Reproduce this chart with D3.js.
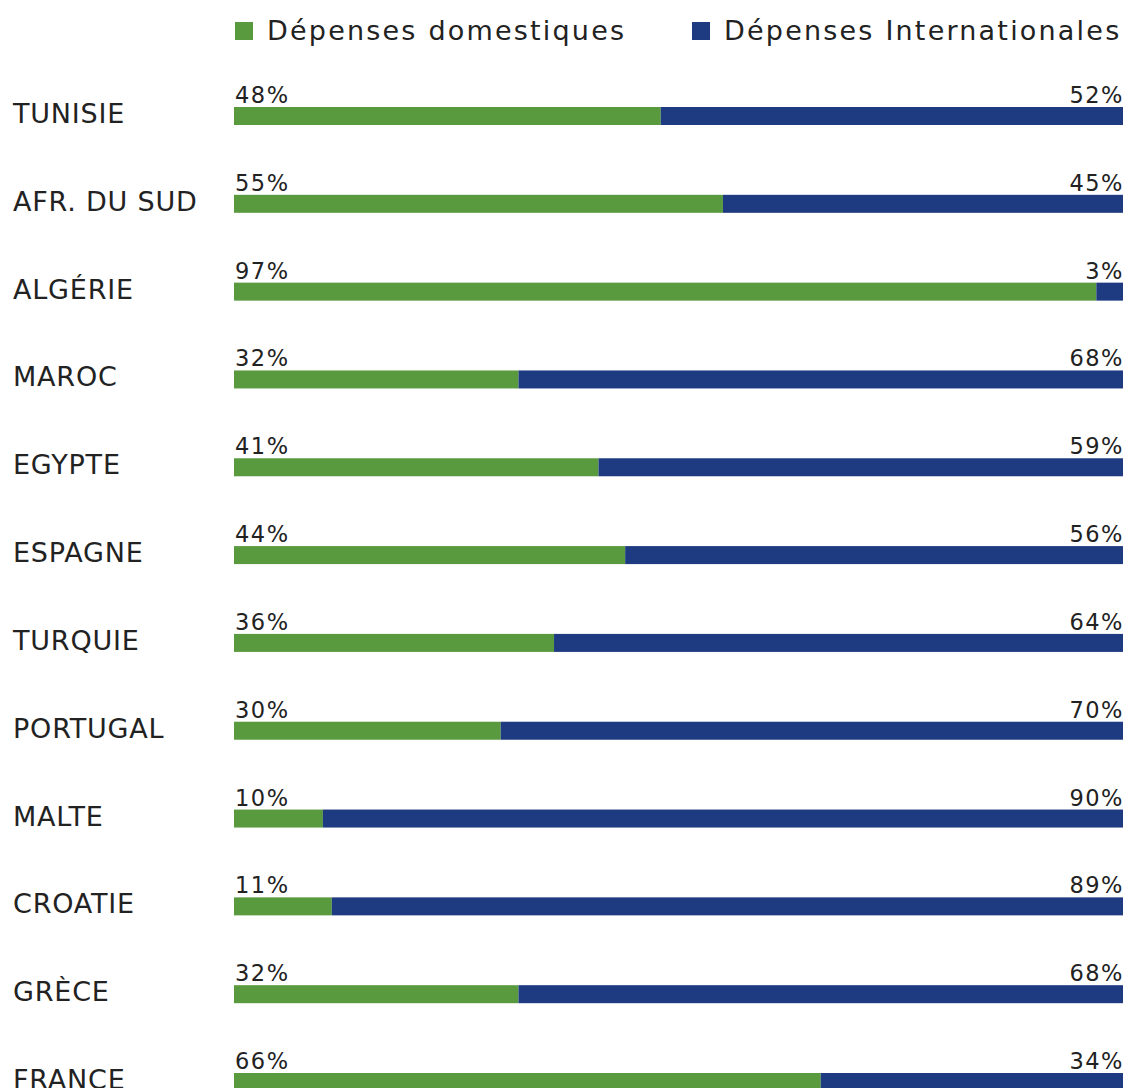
<!DOCTYPE html>
<meta charset="utf-8">
<html>
<head>
<script src="https://d3js.org/d3.v7.min.js"></script>
<style>
  body { margin: 0; background: #fff; }
  svg text { font-family: "DejaVu Sans", Verdana, sans-serif; fill: #222; }
</style>
</head>
<body>
<svg id="chart"></svg>
<script>
  // data
  var countries = ["TUNISIE", "AFR. DU SUD", "ALGÉRIE", "MAROC", "EGYPTE", "ESPAGNE",
                   "TURQUIE", "PORTUGAL", "MALTE", "CROATIE", "GRÈCE", "FRANCE"];
  var domestique = [48, 55, 97, 32, 41, 44, 36, 30, 10, 11, 32, 66];
  var international = [52, 45, 3, 68, 59, 56, 64, 70, 90, 89, 68, 34];
  var seriesNames = ["Dépenses domestiques", "Dépenses Internationales"];

  var width = 1126, height = 1088;
  var colors = ["#5a9a3f", "#1e3a80"];

  var svg = d3.select("#chart")
      .attr("width", width)
      .attr("height", height);

  var x = d3.scaleLinear().domain([0, 100]).range([234, 1123]);
  var y = d3.scalePoint().domain(countries).range([107, 1073]);
  var barH = 18;

  var rows = countries.map(function(c, i) {
    return { name: c, dom: domestique[i], intl: international[i] };
  });

  var g = svg.selectAll("g.row")
      .data(rows)
    .enter().append("g")
      .attr("class", "row");

  // country names
  g.append("text")
      .attr("x", 13)
      .attr("y", function(d) { return y(d.name) + 16; })
      .style("font-size", "27px")
      .style("letter-spacing", "0.8px")
      .text(function(d) { return d.name; });

  // green part
  g.append("rect")
      .attr("x", x(0))
      .attr("y", function(d) { return y(d.name); })
      .attr("width", function(d) { return x(d.dom) - x(0); })
      .attr("height", barH)
      .attr("fill", colors[0]);

  // blue part
  g.append("rect")
      .attr("x", function(d) { return x(d.dom); })
      .attr("y", function(d) { return y(d.name); })
      .attr("width", function(d) { return x(d.dom + d.intl) - x(d.dom); })
      .attr("height", barH)
      .attr("fill", colors[1]);

  // percent labels
  g.append("text")
      .attr("x", x(0) + 1)
      .attr("y", function(d) { return y(d.name) - 4; })
      .style("font-size", "22.5px")
      .style("letter-spacing", "1.5px")
      .text(function(d) { return d.dom + "%"; });

  g.append("text")
      .attr("x", x(100) + 1)
      .attr("y", function(d) { return y(d.name) - 4; })
      .attr("text-anchor", "end")
      .style("font-size", "22.5px")
      .style("letter-spacing", "1.5px")
      .text(function(d) { return d.intl + "%"; });

  // legend
  var legendX = [235, 692];
  var leg = svg.selectAll("g.legend")
      .data(seriesNames)
    .enter().append("g")
      .attr("class", "legend")
      .attr("transform", function(d, i) { return "translate(" + legendX[i] + ",0)"; });

  leg.append("rect")
      .attr("x", 0)
      .attr("y", 22)
      .attr("width", 18)
      .attr("height", 18)
      .attr("fill", function(d, i) { return colors[i]; });

  leg.append("text")
      .attr("x", 32)
      .attr("y", 40)
      .style("font-size", "27px")
      .style("letter-spacing", "2.2px")
      .text(function(d) { return d; });
</script>
</body>
</html>
